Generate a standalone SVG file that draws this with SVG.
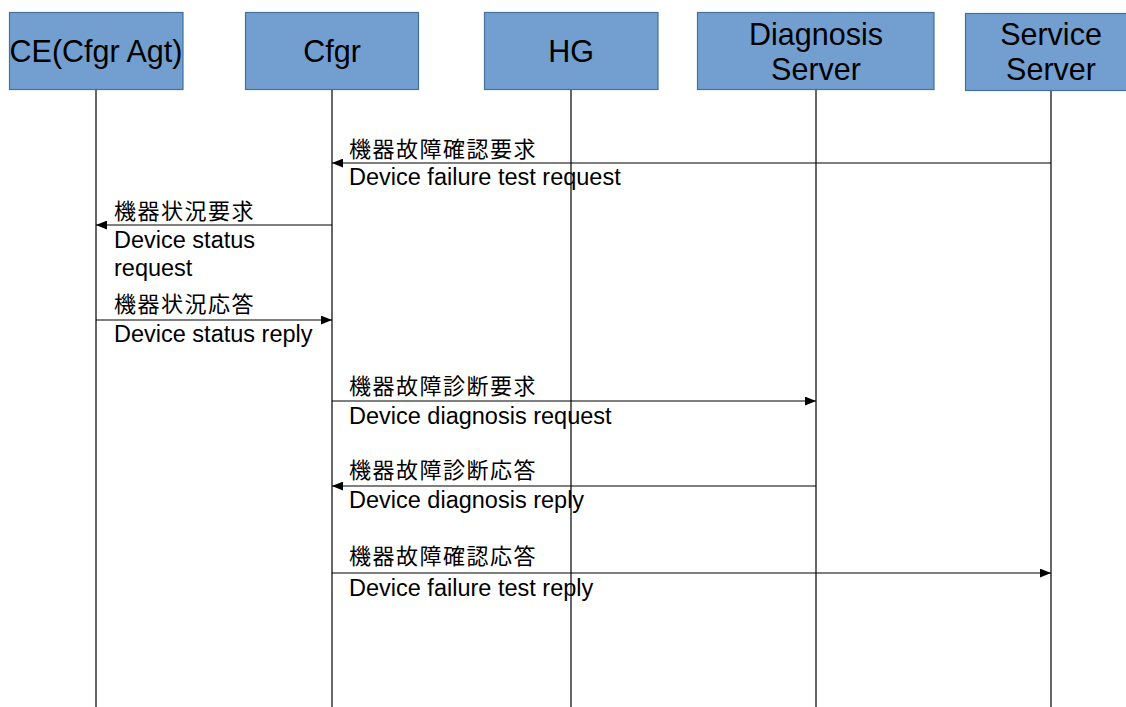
<svg xmlns="http://www.w3.org/2000/svg" width="1126" height="707" viewBox="0 0 1126 707">
  <style>
    .box { fill: #729fcf; stroke: #41719c; stroke-width: 1.2; }
    .title { font-family: "Liberation Sans", Arial, sans-serif; font-size: 30.5px; fill: #000; text-anchor: middle; }
    .life { stroke: #000; stroke-width: 1.2; fill: none; }
    .msg { stroke: #000; stroke-width: 1.2; fill: none; marker-end: url(#arrow); }
    .jp { font-family: "Noto Sans CJK JP", "Noto Sans CJK SC", sans-serif; font-size: 22px; letter-spacing: 1.5px; fill: #000; }
    .en { font-family: "Liberation Sans", Arial, sans-serif; font-size: 23.5px; fill: #000; }
  </style>
  <defs>
    <marker id="arrow" viewBox="0 0 10 8" refX="10" refY="4" markerWidth="11" markerHeight="9" markerUnits="userSpaceOnUse" orient="auto">
      <path d="M0,0 L10,4 L0,8 Z" fill="#000"/>
    </marker>
  </defs>
  <rect width="1126" height="707" fill="#fff"/>

  <!-- lifelines -->
  <g id="lifelines">
    <line class="life" x1="96" y1="90" x2="96" y2="707"/>
    <line class="life" x1="332" y1="90" x2="332" y2="707"/>
    <line class="life" x1="571" y1="90" x2="571" y2="707"/>
    <line class="life" x1="816" y1="90" x2="816" y2="707"/>
    <line class="life" x1="1051" y1="91" x2="1051" y2="707"/>
  </g>

  <!-- participants -->
  <g id="ce">
    <rect class="box" x="9.5" y="12.5" width="173.5" height="77"/>
    <text class="title" x="96" y="62">CE(Cfgr Agt)</text>
  </g>
  <g id="cfgr">
    <rect class="box" x="245.5" y="12.5" width="173" height="77"/>
    <text class="title" x="332" y="62">Cfgr</text>
  </g>
  <g id="hg">
    <rect class="box" x="484.5" y="12.5" width="173.5" height="77"/>
    <text class="title" x="571" y="62">HG</text>
  </g>
  <g id="diagnosis-server">
    <rect class="box" x="697.5" y="12.5" width="236.5" height="77"/>
    <text class="title" x="816" y="45">Diagnosis</text>
    <text class="title" x="816" y="80">Server</text>
  </g>
  <g id="service-server">
    <rect class="box" x="965.5" y="13.5" width="162" height="77"/>
    <text class="title" x="1051" y="45">Service</text>
    <text class="title" x="1051" y="80">Server</text>
  </g>

  <!-- messages -->
  <g id="connectors">
    <line class="msg" x1="1051" y1="163" x2="332" y2="163"/>
    <line class="msg" x1="332" y1="225" x2="96" y2="225"/>
    <line class="msg" x1="96" y1="320" x2="332" y2="320"/>
    <line class="msg" x1="332" y1="401" x2="816" y2="401"/>
    <line class="msg" x1="816" y1="486" x2="332" y2="486"/>
    <line class="msg" x1="332" y1="573" x2="1051" y2="573"/>
  </g>

  <!-- message labels -->
  <g id="labels">
    <text class="jp" x="349" y="157">機器故障確認要求</text>
    <text class="en" x="349" y="185">Device failure test request</text>

    <text class="jp" x="114" y="219">機器状況要求</text>
    <text class="en" x="114" y="248">Device status</text>
    <text class="en" x="114" y="276">request</text>

    <text class="jp" x="114" y="312">機器状況応答</text>
    <text class="en" x="114" y="342">Device status reply</text>

    <text class="jp" x="349" y="394">機器故障診断要求</text>
    <text class="en" x="349" y="424">Device diagnosis request</text>

    <text class="jp" x="349" y="478">機器故障診断応答</text>
    <text class="en" x="349" y="508">Device diagnosis reply</text>

    <text class="jp" x="349" y="564">機器故障確認応答</text>
    <text class="en" x="349" y="596">Device failure test reply</text>
  </g>
</svg>
